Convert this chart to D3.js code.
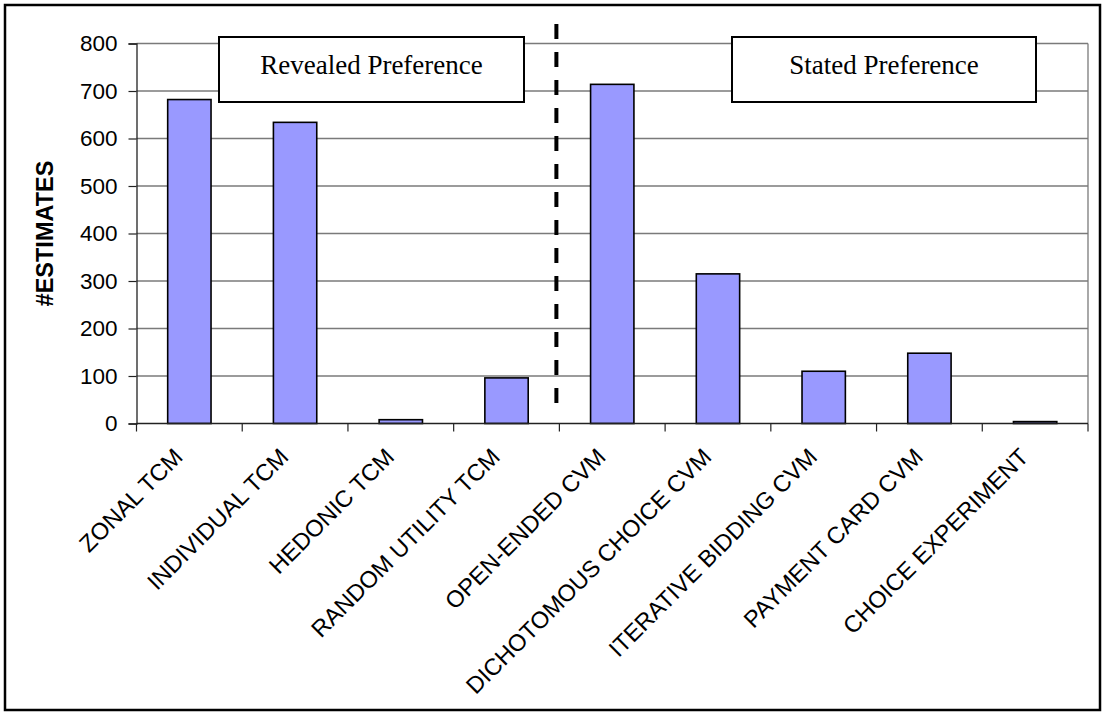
<!DOCTYPE html>
<html>
<head>
<meta charset="utf-8">
<script src="https://cdn.jsdelivr.net/npm/d3@7"></script>
<style>
  html, body { margin: 0; padding: 0; background: #fff; }
  svg { display: block; }
</style>
</head>
<body>
<svg id="chart" width="1106" height="717"></svg>
<script>
// Valuation methods and number of estimates per method
const categories = [
  "ZONAL TCM", "INDIVIDUAL TCM", "HEDONIC TCM", "RANDOM UTILITY TCM",
  "OPEN-ENDED CVM", "DICHOTOMOUS CHOICE CVM", "ITERATIVE BIDDING CVM",
  "PAYMENT CARD CVM", "CHOICE EXPERIMENT"
];
const estimates = [682, 634, 8, 96, 714, 315, 110, 148, 4];
const yTicks = [0, 100, 200, 300, 400, 500, 600, 700, 800];
const groupLabels = ["Revealed Preference", "Stated Preference"];
const yTitle = "#ESTIMATES";

const svg = d3.select("#chart");
const W = 1106, H = 717;
const plot = { left: 136.5, right: 1088, top: 43.5, bottom: 423.5 };

// outer frame
svg.append("rect")
  .attr("x", 5).attr("y", 5).attr("width", W - 11).attr("height", H - 12)
  .attr("fill", "#fff").attr("stroke", "#000").attr("stroke-width", 2.5);

const x = d3.scaleBand().domain(categories).range([plot.left, plot.right]).padding(0);
const y = d3.scaleLinear().domain([0, 800]).range([plot.bottom, plot.top]);

// horizontal gridlines
svg.append("g").selectAll("line").data(yTicks.filter(d => d > 0)).join("line")
  .attr("x1", plot.left).attr("x2", plot.right)
  .attr("y1", d => y(d)).attr("y2", d => y(d))
  .attr("stroke", "#7a7a7a").attr("stroke-width", 1.3);

// right border of plot area
svg.append("line")
  .attr("x1", plot.right).attr("x2", plot.right)
  .attr("y1", plot.top).attr("y2", plot.bottom)
  .attr("stroke", "#7a7a7a").attr("stroke-width", 1.3);

// bars
const barW = x.bandwidth() * 0.41;
svg.append("g").selectAll("rect").data(categories).join("rect")
  .attr("x", (d) => x(d) + (x.bandwidth() - barW) / 2)
  .attr("width", barW)
  .attr("y", (d, i) => y(estimates[i]))
  .attr("height", (d, i) => y(0) - y(estimates[i]))
  .attr("fill", "#9999ff")
  .attr("stroke", "#000").attr("stroke-width", 1.6);

// y axis
const yAxis = svg.append("g")
  .attr("transform", `translate(${plot.left},0)`)
  .call(d3.axisLeft(y).tickValues(yTicks).tickSize(8).tickPadding(11));
yAxis.select(".domain").attr("stroke", "#222").attr("stroke-width", 1.3);
yAxis.selectAll(".tick line").attr("stroke", "#222").attr("stroke-width", 1.2);
yAxis.selectAll(".tick text")
  .attr("font-family", "Liberation Sans, Arial, sans-serif")
  .attr("font-size", 22.5).attr("fill", "#000");

// x axis baseline and category-boundary ticks
svg.append("line")
  .attr("x1", plot.left).attr("x2", plot.right)
  .attr("y1", y(0)).attr("y2", y(0))
  .attr("stroke", "#222").attr("stroke-width", 1.3);
const bounds = categories.map(c => x(c)).concat([plot.right]);
svg.append("g").selectAll("line").data(bounds).join("line")
  .attr("x1", d => d).attr("x2", d => d)
  .attr("y1", y(0)).attr("y2", y(0) + 8)
  .attr("stroke", "#222").attr("stroke-width", 1.2);

// rotated category labels
svg.append("g").selectAll("text").data(categories).join("text")
  .attr("transform", d => `translate(${x(d) + x.bandwidth() / 2 - 11},${y(0) + 29}) rotate(-45)`)
  .attr("text-anchor", "end")
  .attr("dy", "0.35em")
  .attr("font-family", "Liberation Sans, Arial, sans-serif")
  .attr("font-size", 23.5).attr("fill", "#000")
  .text(d => d);

// y axis title
svg.append("text")
  .attr("transform", `translate(53,${(plot.top + plot.bottom) / 2}) rotate(-90)`)
  .attr("text-anchor", "middle")
  .attr("font-family", "Liberation Sans, Arial, sans-serif")
  .attr("font-weight", "bold")
  .attr("font-size", 23.5).attr("fill", "#000")
  .text(yTitle);

// dashed divider between revealed and stated preference methods
const divX = x(categories[4]) - 3;
svg.append("line")
  .attr("x1", divX).attr("x2", divX)
  .attr("y1", 24).attr("y2", 405)
  .attr("stroke", "#000").attr("stroke-width", 4)
  .attr("stroke-dasharray", "15,13");

// group label boxes
const boxes = [
  { label: groupLabels[0], x0: 219, x1: 524 },
  { label: groupLabels[1], x0: 732, x1: 1036 }
];
const bg = svg.append("g").selectAll("g").data(boxes).join("g");
bg.append("rect")
  .attr("x", d => d.x0).attr("y", 37)
  .attr("width", d => d.x1 - d.x0).attr("height", 65)
  .attr("fill", "#fff").attr("stroke", "#000").attr("stroke-width", 2);
bg.append("text")
  .attr("x", d => (d.x0 + d.x1) / 2).attr("y", 74)
  .attr("text-anchor", "middle")
  .attr("font-family", "Liberation Serif, Times New Roman, serif")
  .attr("font-size", 27).attr("fill", "#000")
  .text(d => d.label);
</script>
</body>
</html>
